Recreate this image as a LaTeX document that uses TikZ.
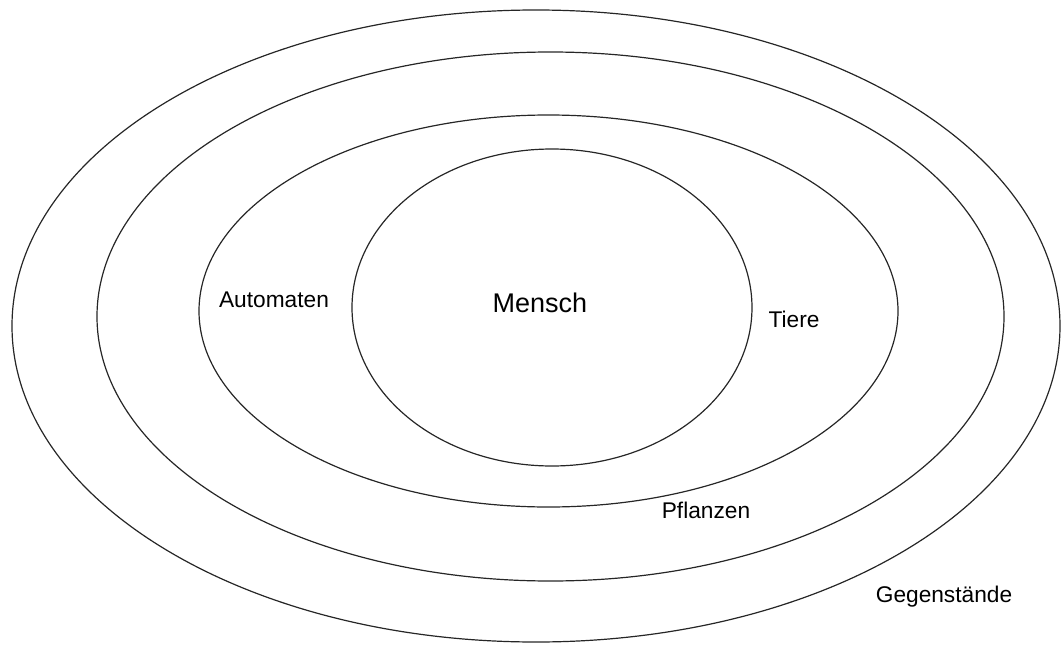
\documentclass[tikz,border=0pt]{standalone}
\usepackage{fontspec}
\setmainfont{Liberation Sans}
\begin{document}
\begin{tikzpicture}[x=1pt,y=-1pt,
  ring/.style={draw=black!85,line width=1.2pt},
  lbl/.style={anchor=base,inner sep=0pt,font=\fontsize{22.7}{26}\selectfont},
  big/.style={anchor=base,inner sep=0pt,font=\fontsize{27}{31}\selectfont}]
\useasboundingbox (0,0) rectangle (1061,645);
\draw[ring] (536,326) ellipse [x radius=524, y radius=316];
\draw[ring] (550.5,316.5) ellipse [x radius=453.5, y radius=264.5];
\draw[ring] (548.5,311) ellipse [x radius=349.5, y radius=196];
\draw[ring] (552,307.5) ellipse [x radius=200, y radius=158.5];
\node[big] (mensch) at (540,312) {Mensch};
\node[lbl] (automaten) at (274,307) {Automaten};
\node[lbl] (tiere) at (794,327) {Tiere};
\node[lbl] (pflanzen) at (706,518) {Pflanzen};
\node[lbl] (gegen) at (944,602) {Gegenstände};
\end{tikzpicture}
\end{document}
